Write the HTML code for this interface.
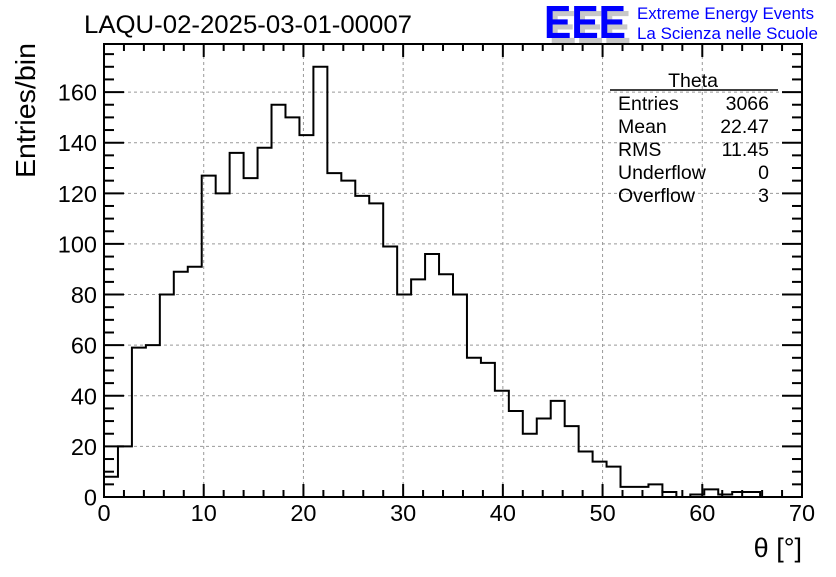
<!DOCTYPE html>
<html><head><meta charset="utf-8"><style>
body{margin:0;background:#fff;}
svg text{font-family:"Liberation Sans",Arial,sans-serif;}
</style></head><body>
<svg id="chart" width="836" height="572" xmlns="http://www.w3.org/2000/svg">
<rect width="836" height="572" fill="#fff"/>
<text x="84" y="33" font-size="25" fill="#000" textLength="328" lengthAdjust="spacingAndGlyphs">LAQU-02-2025-03-01-00007</text>
<g>
<text x="549" y="43" font-size="46" font-weight="bold" fill="#c8c8c8" textLength="82" lengthAdjust="spacingAndGlyphs">EEE</text>
<text x="544" y="38" font-size="46" font-weight="bold" fill="#0000ff" textLength="82" lengthAdjust="spacingAndGlyphs">EEE</text>
<text x="637" y="19" font-size="16.5" fill="#0000ff" textLength="177" lengthAdjust="spacingAndGlyphs">Extreme Energy Events</text>
<text x="637" y="39" font-size="16.5" fill="#0000ff" textLength="181" lengthAdjust="spacingAndGlyphs">La Scienza nelle Scuole</text>
</g>
<g id="grid"></g>
<g id="ticks"></g>
<path id="hist" fill="none" stroke="#000" stroke-width="2"/>
<rect x="104" y="44" width="698" height="453" fill="none" stroke="#000" stroke-width="2"/>
<g id="labels"></g>
<text transform="translate(35,178) rotate(-90)" font-size="28" fill="#000" textLength="135" lengthAdjust="spacingAndGlyphs">Entries/bin</text>
<text x="802" y="557" font-size="27" text-anchor="end" fill="#000">θ [°]</text>
<g font-size="19.5" fill="#000">
<text x="693" y="87" text-anchor="middle">Theta</text>
<line x1="610" y1="90" x2="778" y2="90" stroke="#000" stroke-width="1.5"/>
<text x="618" y="110">Entries</text><text x="769" y="110" text-anchor="end">3066</text>
<text x="618" y="133">Mean</text><text x="769" y="133" text-anchor="end">22.47</text>
<text x="618" y="156">RMS</text><text x="769" y="156" text-anchor="end">11.45</text>
<text x="618" y="179">Underflow</text><text x="769" y="179" text-anchor="end">0</text>
<text x="618" y="202">Overflow</text><text x="769" y="202" text-anchor="end">3</text>
</g>
</svg>
<script>
const binCounts=[8,20,59,60,80,89,91,127,120,136,126,138,155,150,143,170,128,125,119,116,99,80,86,96,88,80,55,53,42,34,25,31,38,28,18,14,12,4,4,5,2,0,1,3,1,2,2,0,0,0];
const binWidth=1.4;
const xTicks=[0,10,20,30,40,50,60,70];
const yTicks=[0,20,40,60,80,100,120,140,160];
const X0=104,X1=802,Y0=497,Y1=44,XMAX=70,YMAX=179;
function xs(v){return X0+(X1-X0)*v/XMAX;}
function ys(v){return Y0-(Y0-Y1)*v/YMAX;}
const NS="http://www.w3.org/2000/svg";
function mk(tag,attrs,parent){const e=document.createElementNS(NS,tag);for(const k in attrs)e.setAttribute(k,attrs[k]);parent.appendChild(e);return e;}
const grid=document.getElementById('grid'),ticks=document.getElementById('ticks'),labels=document.getElementById('labels');
xTicks.forEach(t=>{
  const x=xs(t);
  if(t>0&&t<XMAX){const g=mk('line',{x1:x,x2:x,y1:Y1,y2:Y0,stroke:'#999','stroke-dasharray':'3,3','stroke-width':1},grid);
  
  }
  const l=mk('text',{x:x,y:521,'font-size':23.5,'text-anchor':'middle',fill:'#000'},labels);
  l.textContent=t;
  
  
});
for(let v=0;v<=XMAX;v+=2){const x=xs(v);const len=(v%10===0)?13:7;
  mk('line',{x1:x,x2:x,y1:Y0,y2:Y0-len,stroke:'#000','stroke-width':2},ticks);
  mk('line',{x1:x,x2:x,y1:Y1,y2:Y1+len,stroke:'#000','stroke-width':2},ticks);}
yTicks.forEach(t=>{
  const y=ys(t);
  if(t>0){const g=mk('line',{x1:X0,x2:X1,y1:y,y2:y,stroke:'#999','stroke-dasharray':'3,3','stroke-width':1},grid);
  
  }
  const l=mk('text',{x:97,y:y+8.5,'font-size':23.5,'text-anchor':'end',fill:'#000'},labels);
  l.textContent=t;
  
  
});
for(let v=0;v<=175;v+=5){const y=ys(v);const len=(v%20===0)?20:10;
  mk('line',{x1:X0,x2:X0+len,y1:y,y2:y,stroke:'#000','stroke-width':2},ticks);
  mk('line',{x1:X1,x2:X1-len,y1:y,y2:y,stroke:'#000','stroke-width':2},ticks);}
let d='M'+xs(0)+','+ys(0);
binCounts.forEach((c,i)=>{d+=' L'+xs(i*binWidth)+','+ys(c)+' L'+xs((i+1)*binWidth)+','+ys(c);});
d+=' L'+xs(binCounts.length*binWidth)+','+ys(0);
document.getElementById('hist').setAttribute('d',d);
</script>
</body></html>
